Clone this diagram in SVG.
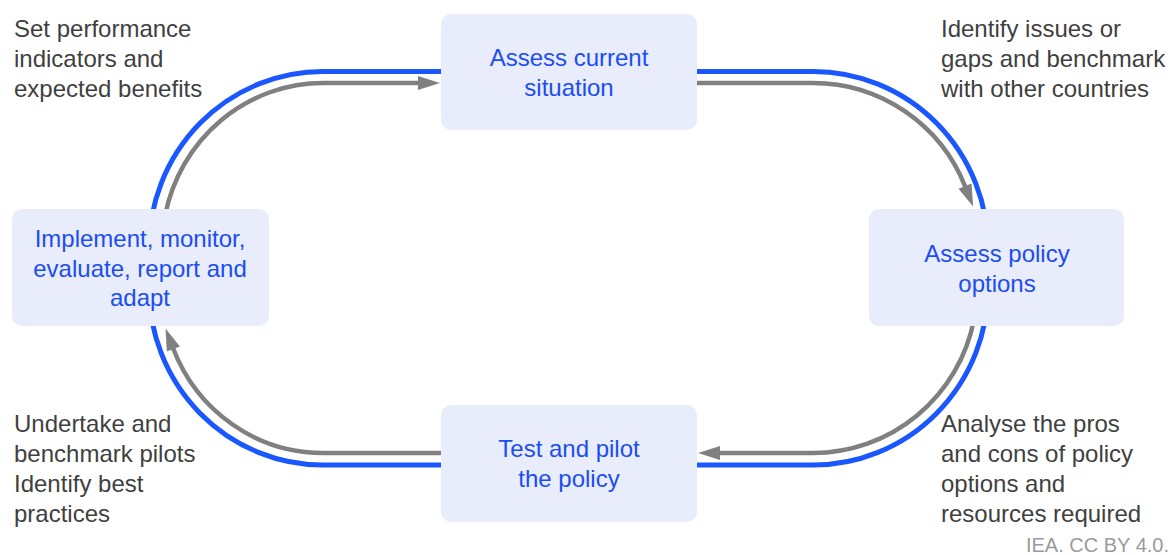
<svg xmlns="http://www.w3.org/2000/svg" width="1174" height="555" viewBox="0 0 1174 555">
<style>
.node rect{fill:#E8ECFB;}
.node text{font-family:"Liberation Sans",Arial,sans-serif;font-size:24px;fill:#1B4DF2;text-anchor:middle;}
.note{font-family:"Liberation Sans",Arial,sans-serif;font-size:24px;fill:#3F3F3F;}
.loop{fill:none;stroke:#1A57FF;stroke-width:5;}
.flow{fill:none;stroke:#808080;stroke-width:4.5;marker-end:url(#ah);}
.credit{font-family:"Liberation Sans",Arial,sans-serif;font-size:20px;fill:#9A9A9A;text-anchor:end;}
</style>
<defs>
<marker id="ah" markerUnits="userSpaceOnUse" markerWidth="24" markerHeight="16" refX="1" refY="7" orient="auto" overflow="visible">
<path d="M0,0 L22,7 L0,14 Z" fill="#808080"/>
</marker>
</defs>
<g id="connectors">
<path class="loop" d="M 323 71.5 H 813 A 175 177 0 0 1 988 248.5 V 288 A 175 177 0 0 1 813 465 H 323 A 174 177 0 0 1 149 288 V 248.5 A 174 177 0 0 1 323 71.5 Z"/>
<path class="flow" d="M 165.2 215 A 161 165 0 0 1 323 83 H 419"/>
<path class="flow" d="M 697 83 H 813 A 164 165 0 0 1 965.4 187"/>
<path class="flow" d="M 973.9 320 A 164 165 0 0 1 813 453 H 719"/>
<path class="flow" d="M 441 453 H 323 A 161 165 0 0 1 173 348"/>
</g>
<g id="node-assess-current" class="node">
<rect x="441" y="14" width="256" height="116" rx="10"/>
<text x="569" y="66">Assess current</text>
<text x="569" y="96">situation</text>
</g>
<g id="node-assess-policy" class="node">
<rect x="869" y="209" width="255" height="117" rx="10"/>
<text x="997" y="262">Assess policy</text>
<text x="997" y="292">options</text>
</g>
<g id="node-test-pilot" class="node">
<rect x="441" y="405" width="256" height="117" rx="10"/>
<text x="569" y="457">Test and pilot</text>
<text x="569" y="487">the policy</text>
</g>
<g id="node-implement" class="node">
<rect x="12" y="209" width="257" height="117" rx="10"/>
<text x="140" y="247">Implement, monitor,</text>
<text x="140" y="276.5">evaluate, report and</text>
<text x="140" y="306">adapt</text>
</g>
<g id="notes">
<text class="note" x="14" y="37">Set performance</text>
<text class="note" x="14" y="67">indicators and</text>
<text class="note" x="14" y="97">expected benefits</text>
<text class="note" x="941" y="37">Identify issues or</text>
<text class="note" x="941" y="67">gaps and benchmark</text>
<text class="note" x="941" y="97">with other countries</text>
<text class="note" x="14" y="432">Undertake and</text>
<text class="note" x="14" y="462">benchmark pilots</text>
<text class="note" x="14" y="492">Identify best</text>
<text class="note" x="14" y="522">practices</text>
<text class="note" x="941" y="432">Analyse the pros</text>
<text class="note" x="941" y="462">and cons of policy</text>
<text class="note" x="941" y="492">options and</text>
<text class="note" x="941" y="522">resources required</text>
<text class="credit" x="1169" y="552">IEA. CC BY 4.0.</text>
</g>
</svg>
